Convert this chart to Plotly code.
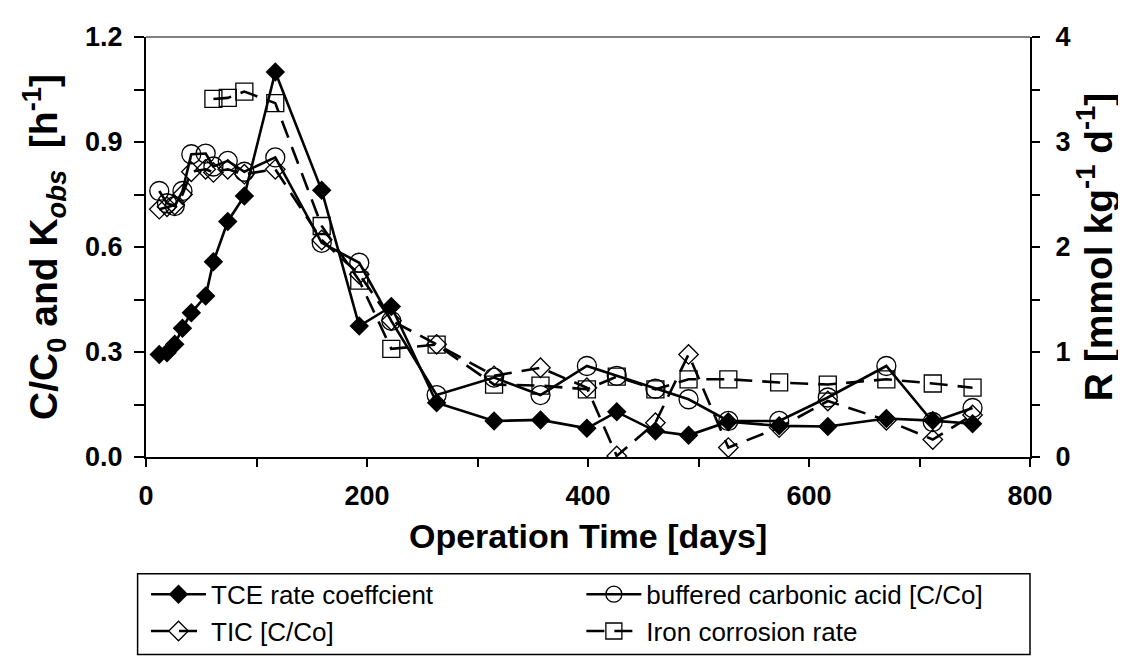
import plotly.graph_objects as go

# ---- data ----
days = [12, 19, 26, 33, 41, 54, 61, 74, 89, 117, 159, 193, 222, 263,
        315, 357, 399, 426, 461, 491, 527, 573, 617, 670, 712, 748]
tce_rate = [0.293, 0.298, 0.322, 0.368, 0.412, 0.460, 0.558, 0.673, 0.746, 1.100,
            0.762, 0.374, 0.430, 0.155, 0.103, 0.106, 0.082, 0.129, 0.074, 0.062,
            0.101, 0.089, 0.087, 0.110, 0.104, 0.095]
buffered = [0.760, 0.725, 0.717, 0.760, 0.865, 0.867, 0.830, 0.846, 0.815, 0.856,
            0.612, 0.555, 0.389, 0.177, 0.227, 0.177, 0.260, 0.232, 0.195, 0.165,
            0.103, 0.103, 0.170, 0.260, 0.100, 0.140]
tic = [0.708, 0.715, 0.720, 0.750, 0.815, 0.822, 0.813, 0.822, 0.808, 0.822,
       0.620, 0.522, 0.390, 0.322, 0.232, 0.255, 0.198, 0.003, 0.098, 0.293,
       0.027, 0.084, 0.160, 0.105, 0.050, 0.120]
iron_days = [61, 74, 89, 117, 159, 193, 222, 263, 315, 357, 399, 426, 461, 491,
             527, 573, 617, 670, 712, 748]
iron_rate = [3.41, 3.42, 3.48, 3.37, 2.20, 1.68, 1.03, 1.07, 0.69, 0.68, 0.645,
             0.765, 0.645, 0.74, 0.74, 0.71, 0.69, 0.74, 0.70, 0.66]

x_ticks = [0, 200, 400, 600, 800]
y_left_ticks = [0.0, 0.3, 0.6, 0.9, 1.2]
y_right_ticks = [0, 1, 2, 3, 4]

FONT = "Liberation Sans, Arial, sans-serif"
BLACK = "black"

fig = go.Figure()
fig.add_trace(go.Scatter(
    x=days, y=tce_rate, name="TCE rate coeffcient", mode="lines+markers",
    legend="legend",
    line=dict(color=BLACK, width=2.6),
    marker=dict(symbol="diamond", size=15, color=BLACK)))
fig.add_trace(go.Scatter(
    x=days, y=buffered, name="buffered carbonic acid [C/Co]", mode="lines+markers",
    legend="legend2",
    line=dict(color=BLACK, width=2.6),
    marker=dict(symbol="circle-open", size=19, color=BLACK, line=dict(width=1.3, color=BLACK))))
fig.add_trace(go.Scatter(
    x=days, y=tic, name="TIC [C/Co]", mode="lines+markers",
    legend="legend",
    line=dict(color=BLACK, width=2.6, dash="18px,10px"),
    marker=dict(symbol="diamond-open", size=15, color=BLACK, line=dict(width=1.3, color=BLACK))))
fig.add_trace(go.Scatter(
    x=iron_days, y=iron_rate, name="Iron corrosion rate", mode="lines+markers",
    yaxis="y2", legend="legend2",
    line=dict(color=BLACK, width=2.6, dash="18px,10px"),
    marker=dict(symbol="square-open", size=17, color=BLACK, line=dict(width=1.3, color=BLACK))))

tickfont = dict(family=FONT, size=27, color=BLACK, weight="bold")
legfont = dict(family=FONT, size=26, color=BLACK)

fig.update_layout(
    width=1126, height=664, autosize=False,
    margin=dict(l=138, r=104, t=29, b=215),
    paper_bgcolor="white", plot_bgcolor="white",
    showlegend=True,
    legend=dict(
        orientation="v", x=0.0, y=-0.271, xanchor="left", yanchor="top",
        itemwidth=55, borderwidth=0, bgcolor="rgba(0,0,0,0)",
        font=legfont, tracegroupgap=0,
    ),
    legend2=dict(
        orientation="v", x=0.4925, y=-0.271, xanchor="left", yanchor="top",
        itemwidth=55, borderwidth=0, bgcolor="rgba(0,0,0,0)",
        font=legfont, tracegroupgap=0,
    ),
    xaxis=dict(
        range=[0, 800], tickvals=x_ticks, ticks="outside", ticklen=8, tickwidth=2,
        tickcolor=BLACK, showline=True, linecolor=BLACK, linewidth=2,
        showgrid=False, zeroline=False, tickfont=tickfont, ticklabelstandoff=6,
        minor=dict(dtick=100, ticks="outside", ticklen=8, tickwidth=2, tickcolor=BLACK, showgrid=False),
    ),
    yaxis=dict(
        range=[0, 1.2], tickvals=y_left_ticks, tickformat=".1f", ticks="outside",
        ticklen=10, tickwidth=2, tickcolor=BLACK, showline=True, linecolor=BLACK,
        linewidth=2, showgrid=False, zeroline=False, tickfont=tickfont,
        ticklabelstandoff=6,
        minor=dict(dtick=0.15, ticks="outside", ticklen=10, tickwidth=2, tickcolor=BLACK, showgrid=False),
        title=dict(text="C/C<sub>0</sub> and K<sub><i>obs</i></sub>  [h<sup>-1</sup>]", standoff=15,
                   font=dict(family=FONT, size=39, color=BLACK, weight="bold")),
    ),
    yaxis2=dict(
        range=[0, 4], tickvals=y_right_ticks, overlaying="y", side="right",
        ticks="outside", ticklen=8, tickwidth=2, tickcolor=BLACK, showline=True,
        linecolor=BLACK, linewidth=2, showgrid=False, zeroline=False,
        tickfont=tickfont, ticklabelstandoff=10,
        minor=dict(dtick=0.5, ticks="outside", ticklen=8, tickwidth=2, tickcolor=BLACK, showgrid=False),
        title=dict(text="R [mmol kg<sup>-1</sup> d<sup>-1</sup>]", standoff=10,
                   font=dict(family=FONT, size=39, color=BLACK, weight="bold")),
    ),
    annotations=[
        dict(text="<b>Operation Time [days]</b>", xref="paper", yref="paper",
             x=0.5, y=-0.188, xanchor="center", yanchor="middle", showarrow=False,
             font=dict(family=FONT, size=34, color=BLACK)),
    ],
    shapes=[
        dict(type="line", xref="paper", yref="paper", x0=0, x1=1, y0=1, y1=1,
             line=dict(color="#808080", width=2)),
        dict(type="rect", xref="paper", yref="paper", x0=-0.0095, x1=1.0,
             y0=-0.470, y1=-0.278, line=dict(color=BLACK, width=1.5),
             fillcolor="rgba(0,0,0,0)", layer="below"),
    ],
)

fig.write_html("out.html")
